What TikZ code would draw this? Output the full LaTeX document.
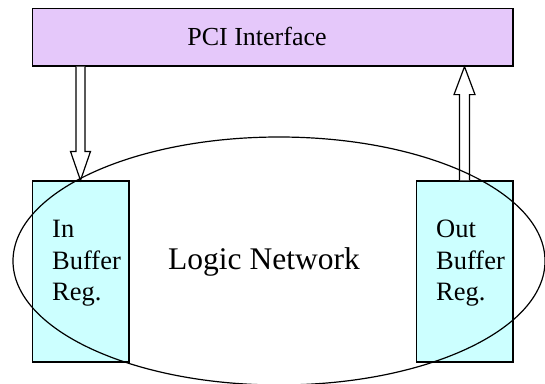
\documentclass[tikz,border=0pt]{standalone}
\usepackage{fontspec}
\setmainfont{Liberation Serif}
\usetikzlibrary{shapes.geometric,calc}
\definecolor{pcifill}{RGB}{229,200,250}
\definecolor{buffill}{RGB}{204,255,255}
\tikzset{
  outline/.style={draw=black, line width=1.2pt},
  pcibox/.style={outline, fill=pcifill, inner sep=0pt, minimum width=480.5pt, minimum height=57.5pt},
  bufbox/.style={outline, fill=buffill, inner sep=0pt, minimum width=96.5pt, minimum height=181pt},
  buftext/.style={anchor=base west, align=left, inner sep=0pt,
    font=\fontsize{26.5}{31.5}\selectfont},
  hollow/.style={outline, fill=white, line join=miter},
  netshape/.style={ellipse, draw=black, line width=1.2pt, inner sep=0pt,
    minimum width=532pt, minimum height=248pt}
}
\begin{document}
\begin{tikzpicture}[x=1pt, y=-1pt]
  \useasboundingbox (0,0) rectangle (545,383);

  % interface block on top
  \node[pcibox] (pci) at (272.75,37.25) {};
  \node[anchor=base, inner sep=0pt, font=\fontsize{26}{31}\selectfont] (pcitext) at (257,45) {PCI Interface};

  % input and output buffer registers (text anchored on its last line)
  \node[bufbox] (inbuf) at (80.75,271.5) {};
  \node[bufbox] (outbuf) at (464.75,271.5) {};
  \node[buftext] (intext) at (52,300.5) {In\\Buffer\\Reg.};
  \node[buftext] (outtext) at (436,300.5) {Out\\Buffer\\Reg.};

  % hollow block arrows between interface and registers
  \draw[hollow] let \p1=(pci.south), \p2=(inbuf.north) in
    (76pt,\y1) -- (76pt,\y2+29pt) -- (70.5pt,\y2+29pt) -- (80.5pt,\y2)
    -- (90.5pt,\y2+29pt) -- (85pt,\y2+29pt) -- (85pt,\y1);
  \draw[hollow] let \p1=(outbuf.north), \p2=(pci.south) in
    (459.5pt,\y1) -- (459.5pt,\y2-28pt) -- (454pt,\y2-28pt) -- (464.5pt,\y2)
    -- (475pt,\y2-28pt) -- (469.5pt,\y2-28pt) -- (469.5pt,\y1);

  % logic network outline
  \node[netshape] (net) at (279,261) {};
  \node[anchor=base, inner sep=0pt, font=\fontsize{31.5}{36}\selectfont] (nettext) at (264,269.5) {Logic Network};
\end{tikzpicture}
\end{document}
